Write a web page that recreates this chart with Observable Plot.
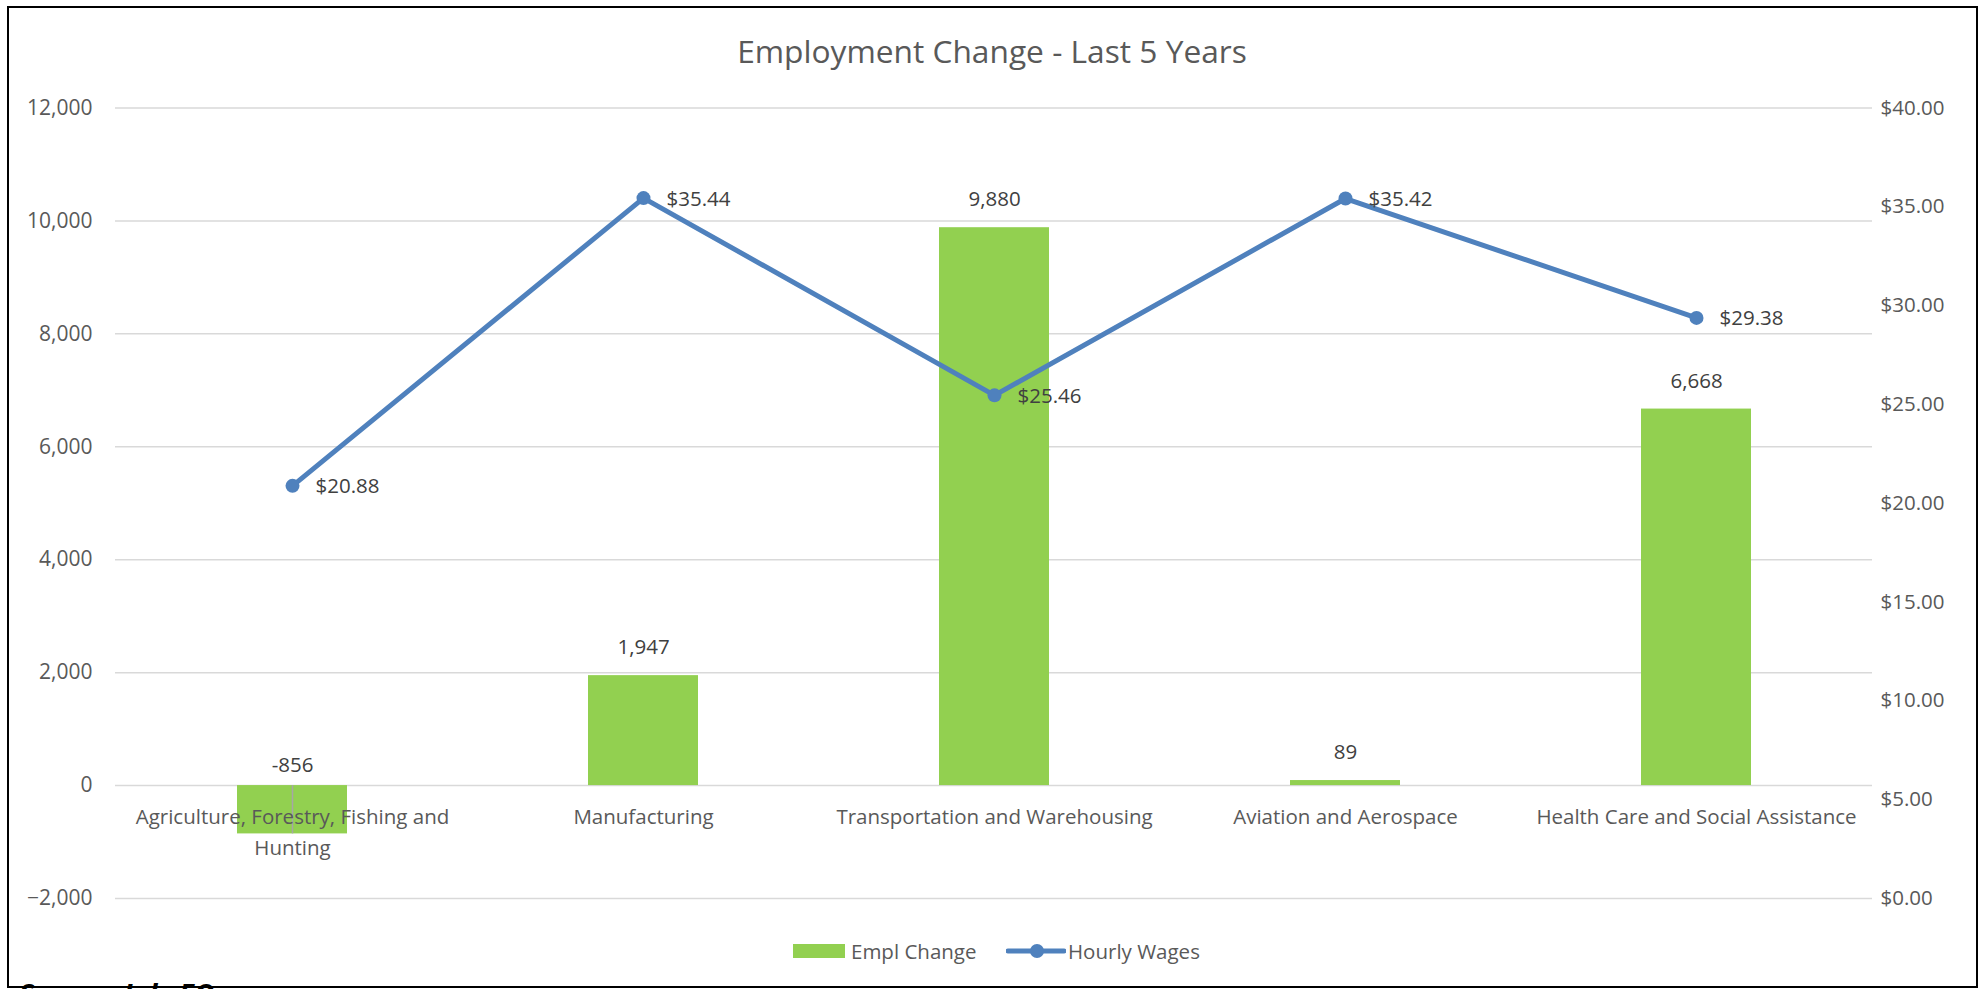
<!DOCTYPE html>
<html>
<head>
<meta charset="utf-8">
<script src="https://cdn.jsdelivr.net/npm/d3@7"></script>
<script src="https://cdn.jsdelivr.net/npm/@observablehq/plot@0.6"></script>
<style>
  html, body { margin: 0; padding: 0; background: #fff; }
  #wrap { position: relative; width: 1984px; height: 989px; overflow: hidden; background: #fff; font-family: "Open Sans", sans-serif; }
  #wrap svg { position: absolute; left: 0; top: 0; }
  .frame { position: absolute; left: 7px; top: 6px; width: 1971px; height: 982px; box-sizing: border-box; border: 2px solid #000; pointer-events: none; }
  .title { position: absolute; left: 0; width: 1984px; top: 28px; text-align: center; font-size: 31.7px; color: #595959; line-height: 46px; }
  .lg { position: absolute; font-size: 20.5px; color: #595959; line-height: 28px; top: 937px; }
  .source { position: absolute; left: 19px; top: 980px; font-size: 28px; line-height: 28px; font-weight: bold; font-style: italic; color: #000; }
</style>
</head>
<body>
<div id="wrap">
  <div id="chart"></div>
  <div class="title">Employment Change - Last 5 Years</div>
  <div class="lg" style="left:793px;top:944px;width:52px;height:14px;background:#92d050;"></div>
  <div class="lg" style="left:851px;">Empl Change</div>
  <svg style="position:absolute;left:1006px;top:941px;" width="60" height="20">
    <line x1="2" y1="10" x2="58" y2="10" stroke="#4f81bd" stroke-width="5" stroke-linecap="round"></line>
    <circle cx="31" cy="10" r="7" fill="#4f81bd"></circle>
  </svg>
  <div class="lg" style="left:1068px;">Hourly Wages</div>
  <div class="frame"></div>
  <div class="source">Source: JobsEQ</div>
</div>
<script>
// ---- data ----
const categories = [
  "Agriculture, Forestry, Fishing and Hunting",
  "Manufacturing",
  "Transportation and Warehousing",
  "Aviation and Aerospace",
  "Health Care and Social Assistance"
];
const categoryLabels = [
  "Agriculture, Forestry, Fishing and\nHunting",
  "Manufacturing",
  "Transportation and Warehousing",
  "Aviation and Aerospace",
  "Health Care and Social Assistance"
];
const emplChange = [-856, 1947, 9880, 89, 6668];
const hourlyWages = [20.88, 35.44, 25.46, 35.42, 29.38];
const leftTicks = [-2000, 0, 2000, 4000, 6000, 8000, 10000, 12000];
const rightTicks = [0, 5, 10, 15, 20, 25, 30, 35, 40];

// ---- secondary axis mapping ----
const yMin = -2000, yMax = 12000, wMin = 0, wMax = 40;
const k = (yMax - yMin) / (wMax - wMin);
const toY = w => (w - wMin) * k + yMin;
const fromY = v => (v - yMin) / k + wMin;

const rows = categories.map((c, i) => ({
  cat: c, label: categoryLabels[i], empl: emplChange[i], wage: hourlyWages[i]
}));

const green = "#92d050", blue = "#4f81bd", grid = "#d9d9d9";

const chart = Plot.plot({
  width: 1984,
  height: 989,
  marginLeft: 115,
  marginRight: 112,
  marginTop: 107.5,
  marginBottom: 91,
  style: { fontFamily: "Open Sans, sans-serif", color: "#595959", background: "transparent", overflow: "visible" },
  x: { domain: categories, paddingInner: 0.687, paddingOuter: 0.3435, axis: null },
  y: { domain: [yMin, yMax], axis: null },
  marks: [
    Plot.ruleY(leftTicks, { stroke: grid, strokeWidth: 1.5 }),
    Plot.axisY({ ticks: leftTicks, tickFormat: d3.format(","), tickSize: 0, tickPadding: 23, fontSize: 21, label: null, anchor: "left" }),
    Plot.axisY({ ticks: rightTicks.map(toY), tickFormat: v => "$" + fromY(v).toFixed(2), tickSize: 0, tickPadding: 8, fontSize: 20.5, label: null, anchor: "right" }),
    Plot.barY(rows, { x: "cat", y: "empl", fill: green }),
    Plot.ruleX(rows.filter(d => d.empl < 0), { x: "cat", y1: () => 0, y2: "empl", stroke: "#a6a6a6", strokeWidth: 1.5 }),
    Plot.text(rows, { x: "cat", y: () => 0, text: "label", lineAnchor: "top", dy: 16, lineHeight: 1.52, fontSize: 20.5, fill: "#595959" }),
    Plot.text(rows.filter(d => d.empl >= 0), { x: "cat", y: "empl", text: d => d3.format(",")(d.empl), dy: -28, fontSize: 20.5, fill: "#404040" }),
    Plot.text(rows.filter(d => d.empl < 0), { x: "cat", y: () => 0, text: d => d3.format(",")(d.empl).replace("−", "-"), dy: -20, fontSize: 20.5, fill: "#404040" }),
    Plot.line(rows, { x: "cat", y: d => toY(d.wage), stroke: blue, strokeWidth: 5, strokeLinejoin: "round" }),
    Plot.dot(rows, { x: "cat", y: d => toY(d.wage), r: 7, fill: blue }),
    Plot.text(rows, { x: "cat", y: d => toY(d.wage), text: d => "$" + d.wage.toFixed(2), dx: 23, dy: 1, textAnchor: "start", fontSize: 20.5, fill: "#404040" })
  ]
});
document.getElementById("chart").appendChild(chart);
</script>
</body>
</html>
